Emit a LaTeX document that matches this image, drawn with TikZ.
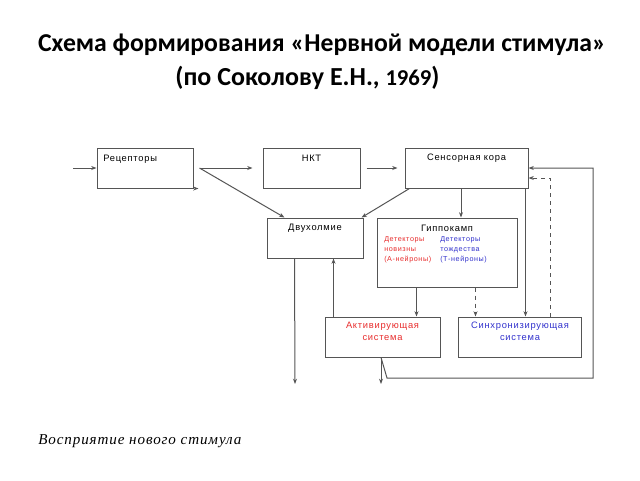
\documentclass[tikz,border=0pt]{standalone}
\usepackage{fontspec}
\setmainfont{Liberation Sans}
\newfontfamily\titlefont{Carlito}
\newfontfamily\boxfont[LetterSpace=8]{Liberation Sans}
\newfontfamily\italfont[LetterSpace=6]{Liberation Serif}
\usetikzlibrary{arrows.meta,calc}
\definecolor{lc}{RGB}{85,85,85}
\definecolor{myred}{RGB}{232,45,45}
\definecolor{myblue}{RGB}{50,50,205}
\tikzset{
  box/.style 2 args={draw=lc, line width=0.75pt, fill=white, inner sep=0pt,
    minimum width=#1*0.75pt, minimum height=#2*0.75pt},
  txt/.style={inner sep=0pt, font=\boxfont\fontsize{7}{9}\selectfont},
  smalltxt/.style={inner sep=0pt, anchor=west, font=\boxfont\fontsize{5.4}{7}\selectfont},
  conn/.style={draw=lc, line width=0.75pt},
  arr/.style={conn, -{Stealth[length=4pt,width=3pt]}},
}
\begin{document}
\begin{tikzpicture}[x=0.75pt,y=-0.75pt]
\useasboundingbox[fill=white] (0,0) rectangle (640,480);

% title
\node[inner sep=0pt, font=\titlefont\bfseries\fontsize{19.3}{22}\selectfont] (t1) at (322,45)
  {Схема формирования «Нервной модели стимула»};
\node[inner sep=0pt, font=\titlefont\bfseries\fontsize{19.5}{22}\selectfont] (t2) at (307.5,78)
  {(по Соколову Е.Н., {\fontsize{17}{20}\selectfont 1969})};

% boxes
\node[box={96}{40}] (R) at (145,168) {};
\node[box={97}{40}] (N) at (311.5,168) {};
\node[box={123}{40}] (S) at (466.5,168) {};
\node[box={96}{40}] (D) at (315,238) {};
\node[box={140}{69}] (G) at (447,252.5) {};
\node[box={115}{40}] (A) at (382.5,337) {};
\node[box={123}{40}] (Sy) at (519.5,337) {};

% box texts
\node[txt, anchor=west] (Rt) at (103,159) {Рецепторы};
\node[txt] (Nt) at (311.5,158) {НКТ};
\node[txt] (St) at (466.5,158) {Сенсорная кора};
\node[txt] (Dt) at (315,228) {Двухолмие};
\node[txt] (Gt) at (447,228.5) {Гиппокамп};
\node[smalltxt, text=myred] (g1) at (384,239.5) {Детекторы};
\node[smalltxt, text=myred] (g2) at (384,250) {новизны};
\node[smalltxt, text=myred] (g3) at (384,260) {(А-нейроны)};
\node[smalltxt, text=myblue] (g4) at (440,239.5) {Детекторы};
\node[smalltxt, text=myblue] (g5) at (440,250) {тождества};
\node[smalltxt, text=myblue] (g6) at (440,260) {(Т-нейроны)};
\node[txt, text=myred] (At1) at (382.5,326) {Активирующая};
\node[txt, text=myred] (At2) at (382.5,338) {система};
\node[txt, text=myblue] (Sy1) at (520,326) {Синхронизирующая};
\node[txt, text=myblue] (Sy2) at (520,338) {система};

% bottom caption
\node[inner sep=0pt, anchor=west, font=\italfont\itshape\fontsize{11.3}{13}\selectfont] (cap) at (38,441)
  {Восприятие нового стимула};

% coordinates
\coordinate (in) at (73,168);
\coordinate (out1) at (295,384);
\coordinate (out2) at (381,384);
\coordinate (fb1) at (387,378);
\coordinate (fb2) at (593,168);

% connectors
\draw[arr] (in) -- (R.west);
\draw[arr] ($(R.east)+(6,0)$) -- ($(N.west)+(-10,0)$);
\draw[arr] ($(N.east)+(6,0)$) -- ($(S.west)+(-7,0)$);
\draw[arr] ($(R.east)+(6,0)$) -- ($(D.north west)+(18,0)$);
\draw[arr] ($(R.south east)+(1,0)$) -- ++(4,0);
\draw[arr] ($(S.south west)+(5,0)$) -- ($(D.north east)+(-2,0)$);
\draw[arr] ($(S.south)+(-5.5,0)$) coordinate (sg) -- (sg |- G.north);
\draw[arr] ($(S.south east)+(-3,0)$) coordinate (ss) -- (ss |- Sy.north);
\draw[arr] ($(G.south west)+(40,0)$) coordinate (ga) -- (ga |- A.north);
\draw[arr, dashed] ($(G.south west)+(99,0)$) coordinate (gs) -- (gs |- Sy.north);
\draw[arr, dashed] ($(Sy.north east)+(-31,0)$) |- ($(S.east)+(0,10)$);
\draw[arr] ($(A.north west)+(9,0)$) coordinate (ad) -- (ad |- D.south);
\draw[arr] ($(D.south west)+(28,0)$) -- (out1);
\draw[arr] ($(A.south)+(-1.5,0)$) -- (out2);
\draw[arr] ($(A.south)+(-1.5,0)$) -- (fb1) -| (fb2) -- (S.east);
\end{tikzpicture}
\end{document}
